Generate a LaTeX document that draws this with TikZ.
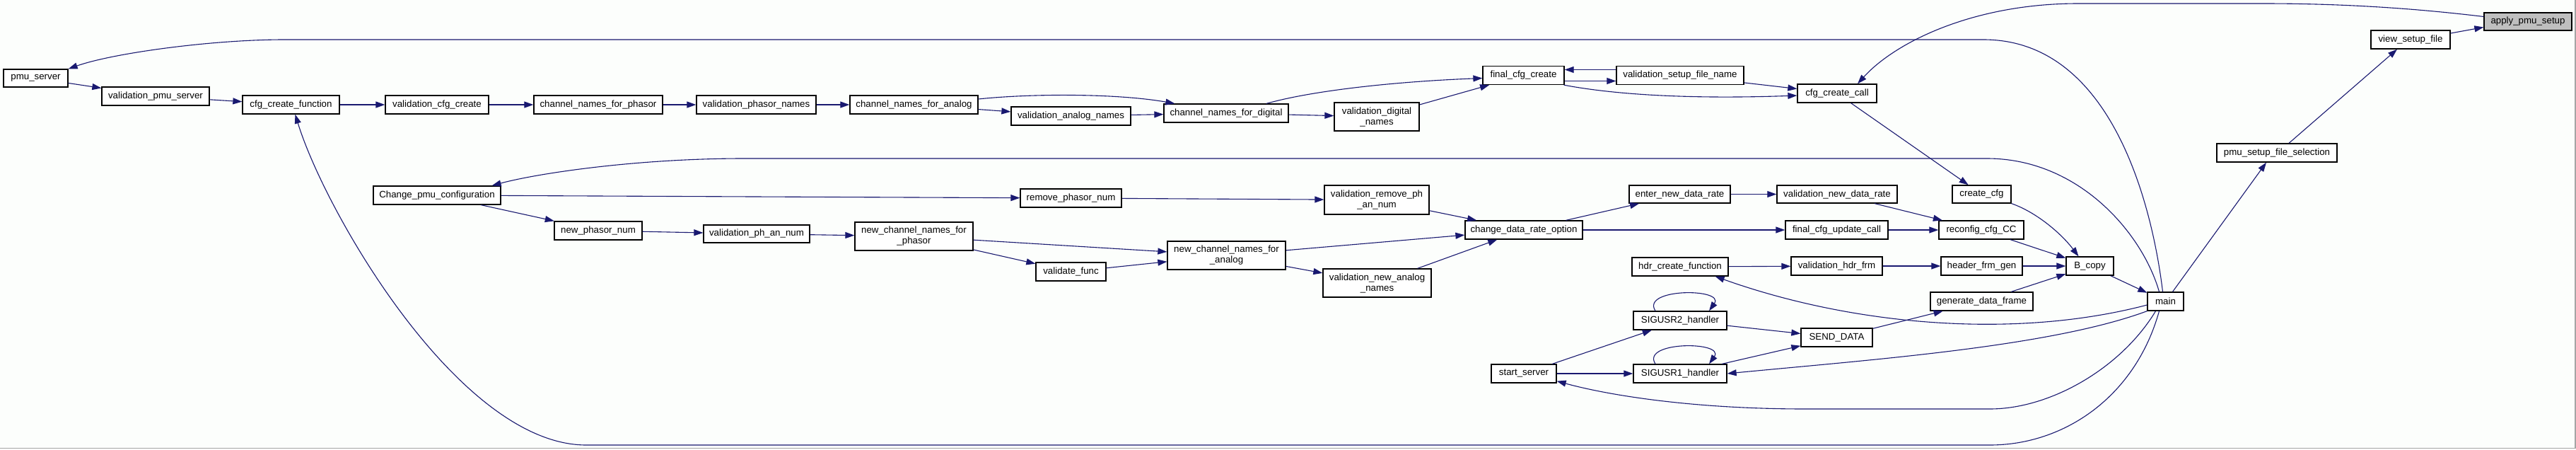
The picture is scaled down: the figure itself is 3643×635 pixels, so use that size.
\documentclass[tikz,border=0pt]{standalone}
\usepackage{fontspec}
\setmainfont{Liberation Sans}
\usepackage{xcolor}
\usetikzlibrary{arrows.meta}
\usetikzlibrary{positioning}

\definecolor{edgeblue}{RGB}{25,25,112}
\definecolor{focusgray}{RGB}{191,191,191}
\definecolor{framegray}{RGB}{165,165,165}
\definecolor{paper}{RGB}{252,254,252}

\tikzset{
  fn/.style={draw=black, fill=white, line width=1.3pt, minimum height=26pt,
    inner sep=0pt, align=center, font=\fontsize{13.3}{15}\selectfont},
  fn2/.style={fn, minimum height=40pt},
  call/.style={draw=edgeblue, line width=1.1pt, -{Triangle[length=13pt,width=9pt]}}
}

\begin{document}
\begin{tikzpicture}[x=1pt,y=-1pt]
        \useasboundingbox (0,0) rectangle (3643,635);
        \fill[paper] (0,0) rectangle (3643,635);
        \draw[framegray,line width=1.5pt] (0,633.5) -- (3641.8,633.5) -- (3641.8,0);

        % upper chain
        \node[fn,minimum width=91pt,minimum height=25pt] (pmuserver) at (50.5,110.5) {pmu\_server};
        \node[fn,minimum width=152pt] (valpmu) at (220,136) {validation\_pmu\_server};
        \node[fn,minimum width=137pt] (cfgfunc) at (411.5,148) {cfg\_create\_function};
        \node[fn,minimum width=146pt] (valcfg) at (618,148) {validation\_cfg\_create};
        \node[fn,minimum width=182pt] (chphasor) at (846,148) {channel\_names\_for\_phasor};
        \node[fn,minimum width=169pt] (valphasor) at (1069.5,148) {validation\_phasor\_names};
        \node[fn,minimum width=181pt] (chanalog) at (1292.5,148) {channel\_names\_for\_analog};
        \node[fn,minimum width=169pt] (valanalog) at (1514.5,164) {validation\_analog\_names};
        \node[fn,minimum width=176pt] (chdigital) at (1734,160) {channel\_names\_for\_digital};
        \node[fn2,minimum width=120pt] (valdigital) at (1947,165) {validation\_digital\\\_names};
        \node[fn,minimum width=115pt] (finalcfg) at (2154.5,106.5) {final\_cfg\_create};
        \node[fn,minimum width=180pt] (valsetup) at (2376,106.5) {validation\_setup\_file\_name};
        \node[fn,minimum width=112pt] (cfgcall) at (2598,132) {cfg\_create\_call};
        \node[fn,minimum width=124pt,minimum height=25pt,fill=focusgray] (applysetup) at (3575,30.5) {apply\_pmu\_setup};
        \node[fn,minimum width=112pt] (viewsetup) at (3409,56) {view\_setup\_file};
        \node[fn,minimum width=170pt] (setupsel) at (3220,216) {pmu\_setup\_file\_selection};

        % reconfiguration part
        \node[fn,minimum width=180pt] (changepmu) at (618,276) {Change\_pmu\_configuration};
        \node[fn,minimum width=143pt] (removephasor) at (1514.5,280) {remove\_phasor\_num};
        \node[fn2,minimum width=148pt,minimum height=41pt] (valremove) at (1947,282.5) {validation\_remove\_ph\\\_an\_num};
        \node[fn,minimum width=124pt] (newphasor) at (846,326) {new\_phasor\_num};
        \node[fn,minimum width=150pt,minimum height=25pt] (valphan) at (1070,330.5) {validation\_ph\_an\_num};
        \node[fn2,minimum width=167pt] (newchphasor) at (1292.5,334) {new\_channel\_names\_for\\\_phasor};
        \node[fn,minimum width=99pt] (validatefunc) at (1514.5,384) {validate\_func};
        \node[fn2,minimum width=167pt] (newchanalog) at (1734.5,361) {new\_channel\_names\_for\\\_analog};
        \node[fn2,minimum width=153pt] (valnewanalog) at (1947.5,400) {validation\_new\_analog\\\_names};
        \node[fn,minimum width=166pt] (changerate) at (2155,325) {change\_data\_rate\_option};
        \node[fn,minimum width=143pt,minimum height=25pt] (enterrate) at (2375.5,274.5) {enter\_new\_data\_rate};
        \node[fn,minimum width=170pt,minimum height=25pt] (valrate) at (2598,274.5) {validation\_new\_data\_rate};
        \node[fn,minimum width=145pt] (finalupdate) at (2597.5,325) {final\_cfg\_update\_call};
        \node[fn,minimum width=136pt] (hdrfunc) at (2376,377) {hdr\_create\_function};
        \node[fn,minimum width=129pt] (valhdr) at (2597.5,376) {validation\_hdr\_frm};

        % signal handlers
        \node[fn,minimum width=132pt] (sigtwo) at (2376,453) {SIGUSR2\_handler};
        \node[fn,minimum width=132pt] (sigone) at (2376,528) {SIGUSR1\_handler};
        \node[fn,minimum width=101pt] (senddata) at (2597.5,477) {SEND\_DATA};
        \node[fn,minimum width=92pt] (startserver) at (2155,528) {start\_server};

        \node[fn,minimum width=83pt,minimum height=25pt] (createcfg) at (2802.5,274.5) {create\_cfg};
        \node[fn,minimum width=120pt] (reconfig) at (2802,325) {reconfig\_cfg\_CC};
        \node[fn,minimum width=115pt] (headergen) at (2802.5,376) {header\_frm\_gen};
        \node[fn,minimum width=67pt] (bcopy) at (2955.5,376) {B\_copy};
        \node[fn,minimum width=145pt] (generate) at (2802.5,426) {generate\_data\_frame};
        \node[fn,minimum width=51pt] (main) at (3062.5,426) {main};

        \foreach \a/\b in {pmuserver/valpmu,valpmu/cfgfunc,cfgfunc/valcfg,valcfg/chphasor,
            chphasor/valphasor,valphasor/chanalog,chanalog/valanalog,valanalog/chdigital,
            chdigital/valdigital,valdigital/finalcfg,valsetup/cfgcall,cfgcall/createcfg,
            reconfig/bcopy,headergen/bcopy,generate/bcopy,valrate/reconfig,finalupdate/reconfig,
            valhdr/headergen,hdrfunc/valhdr,senddata/generate,sigtwo/senddata,sigone/senddata,
            startserver/sigtwo,startserver/sigone,changepmu/removephasor,changepmu/newphasor,
            newphasor/valphan,valphan/newchphasor,newchphasor/newchanalog,newchphasor/validatefunc,
            validatefunc/newchanalog,newchanalog/changerate,newchanalog/valnewanalog,
            valnewanalog/changerate,removephasor/valremove,valremove/changerate,
            changerate/enterrate,changerate/finalupdate,enterrate/valrate,bcopy/main}{
            \draw[call] (\a) -- (\b);
        }

        % curved calls
        \draw[call] ([yshift=8pt]chanalog.east) .. controls (1460,132) and (1580,132) .. ([xshift=16pt]chdigital.north west);
        \draw[call] ([xshift=57pt]chdigital.north) .. controls (1860,127) and (1980,115) .. ([yshift=-4pt]finalcfg.west);
        \draw[call] ([yshift=-8pt]finalcfg.east) -- ([yshift=-8pt]valsetup.west);
        \draw[call] ([yshift=8pt]valsetup.west) -- ([yshift=8pt]finalcfg.east);
        \draw[call] ([xshift=-1pt]finalcfg.south east) .. controls (2290,135) and (2400,140) .. ([yshift=-3pt]cfgcall.west);
        \draw[call] (createcfg.south east) .. controls (2880,300) and (2915,330) .. ([xshift=-16pt]bcopy.north);
        \draw[call] ([xshift=-35pt]sigtwo.north) .. controls (2320,407) and (2440,407) .. ([xshift=41pt]sigtwo.north);
        \draw[call] ([xshift=-35pt]sigone.north) .. controls (2320,482) and (2440,482) .. ([xshift=41pt]sigone.north);

        \draw[call] ([yshift=7pt]applysetup.west) .. controls (3400,10) and (3300,5) .. (3200,5) -- (2939,5)
            .. controls (2790,5) and (2680,60) .. ([xshift=29pt]cfgcall.north);
        \draw[call] ([yshift=9pt]viewsetup.east) -- ([yshift=-8pt]applysetup.west);
        \draw[call] ([xshift=17pt]setupsel.north) -- ([xshift=-19pt]viewsetup.south);
        \draw[call] ([xshift=10pt]main.north) -- ([xshift=-15pt]setupsel.south);

        \draw[call] ([xshift=-4pt]main.north) .. controls (3045,300) and (2990,56) .. (2805,56) -- (402,56)
            .. controls (300,56) and (160,75) .. (pmuserver.north east);
        \draw[call] ([xshift=-9pt]main.north) .. controls (3030,330) and (2940,224) .. (2810,224) -- (1052,224)
            .. controls (900,224) and (760,245) .. ([xshift=-13pt]changepmu.north east);
        \draw[call] ([xshift=-9pt]main.south) .. controls (3020,560) and (2920,629) .. (2814,629) -- (829,629)
            .. controls (650,629) and (460,300) .. ([xshift=6pt]cfgfunc.south);
        \draw[call] ([xshift=-14pt]main.south) .. controls (3000,520) and (2900,578) .. (2814,578) -- (2553,578)
            .. controls (2400,578) and (2280,560) .. ([yshift=3pt]startserver.south east);
        \draw[call] (main.south west) .. controls (2900,490) and (2650,508) .. (sigone.east);
        \draw[call] ([yshift=-5pt]main.west) .. controls (2850,480) and (2620,460) .. ([xshift=-19pt]hdrfunc.south east);
\end{tikzpicture}
\end{document}
